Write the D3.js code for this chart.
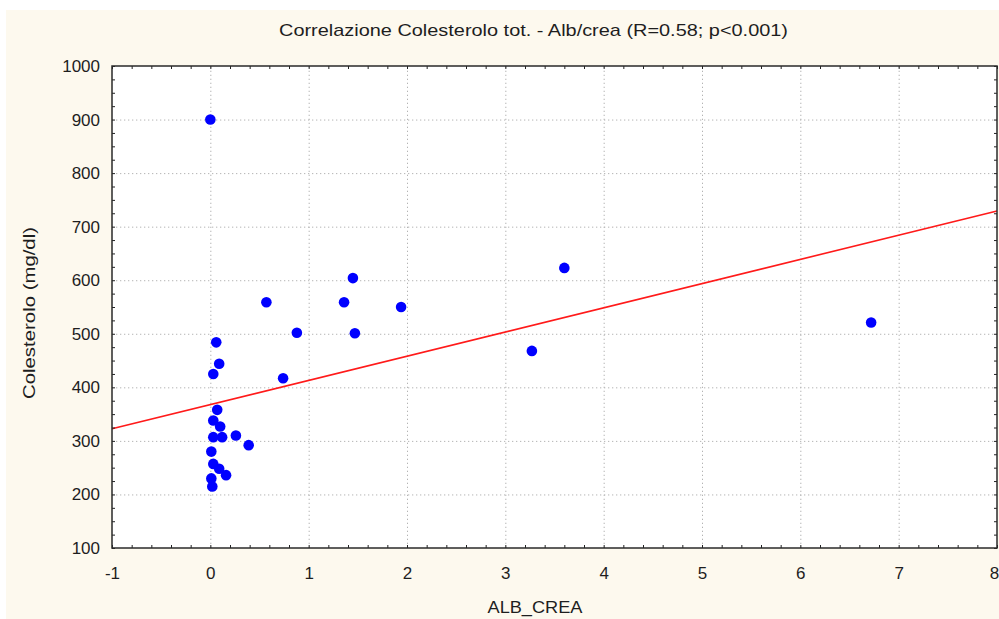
<!DOCTYPE html>
<html>
<head>
<meta charset="utf-8">
<script src="https://cdn.jsdelivr.net/npm/d3@7"></script>
<style>
    body { margin: 0; background: #fff; }
    svg { display: block; }
</style>
</head>
<body>
<svg id="chart"></svg>
<script>
// values
const albCrea = [0.00, 0.06, 0.09, 0.03, 0.07, 0.03, 0.10, 0.03, 0.12, 0.26, 0.39, 0.01, 0.03, 0.09,
    0.16, 0.01, 0.02, 0.57, 0.88, 0.74, 1.36, 1.45, 1.47, 1.94, 3.27, 3.60, 6.72];
const colesterolo = [900, 484, 444, 425, 358, 338, 327, 307, 307, 310, 292, 280, 257, 248,
    236, 230, 215, 559, 502, 417, 559, 604, 501, 550, 468, 623, 521];
const xTicks = [-1, 0, 1, 2, 3, 4, 5, 6, 7, 8];
const yTicks = [100, 200, 300, 400, 500, 600, 700, 800, 900, 1000];
const fitLine = { intercept: 367.7, slope: 45.2 };
const titleText = 'Correlazione Colesterolo tot. - Alb/crea (R=0.58; p<0.001)';
const xLabel = 'ALB_CREA';
const yLabel = 'Colesterolo (mg/dl)';

class ScatterPlot {
    constructor(_config, _data) {
        this.data = _data;

        // config object with defaults
        this.config = {
            parentElement: _config.parentElement || 'body',
            width: _config.width || 999,
            height: _config.height || 619,
            margin: _config.margin || { top: 66, right: 2, bottom: 71, left: 112 }
        };

        this.initVis();
    }

    initVis() {
        const that = this;

        // inner bounds
        that.boundedWidth = that.config.width - that.config.margin.left - that.config.margin.right;
        that.boundedHeight = that.config.height - that.config.margin.top - that.config.margin.bottom;

        that.xScale = d3.scaleLinear()
            .domain([-1, 8])
            .range([0, that.boundedWidth]);

        that.yScale = d3.scaleLinear()
            .domain([100, 1000])
            .range([that.boundedHeight, 0]);

        that.wrapper = d3.select(that.config.parentElement)
            .attr('width', that.config.width)
            .attr('height', that.config.height)
            .style('font-family', '"Liberation Sans", Arial, sans-serif');

        // cream panel behind everything
        that.wrapper.append('rect')
            .attr('x', 6)
            .attr('y', 10)
            .attr('width', that.config.width - 6)
            .attr('height', that.config.height - 10)
            .attr('fill', '#fdf9ee');

        that.bounds = that.wrapper.append('g')
            .attr('transform', `translate(${that.config.margin.left}, ${that.config.margin.top})`);

        // white plotting area
        that.bounds.append('rect')
            .attr('width', that.boundedWidth)
            .attr('height', that.boundedHeight)
            .attr('fill', '#fff');
    }

    updateVis() {
        const that = this;

        that.points = that.data.x.map((d, i) => ({ x: d, y: that.data.y[i] }));

        // minor ticks every 0.2 on x and 25 on y
        that.xMinor = d3.range(-1, 8.0001, 0.2);
        that.yMinor = d3.range(100, 1000.001, 25);

        that.renderVis();
    }

    renderVis() {
        const that = this;
        const w = that.boundedWidth;
        const h = that.boundedHeight;

        // dotted gridlines
        const gridX = that.bounds.append('g')
            .attr('transform', `translate(0, ${h})`)
            .call(d3.axisBottom(that.xScale).tickValues(xTicks.slice(1, -1)).tickSize(-h).tickFormat(''));
        const gridY = that.bounds.append('g')
            .call(d3.axisLeft(that.yScale).tickValues(yTicks.slice(1, -1)).tickSize(-w).tickFormat(''));
        [gridX, gridY].forEach(g => {
            g.select('.domain').remove();
            g.selectAll('line')
                .attr('stroke', '#b4b4b4')
                .attr('stroke-dasharray', '1.3,2.7');
        });

        // regression line across the full x range
        const lineGen = d3.line()
            .x(d => that.xScale(d))
            .y(d => that.yScale(fitLine.intercept + fitLine.slope * d));
        that.bounds.append('path')
            .datum([-1, 8])
            .attr('d', lineGen)
            .attr('fill', 'none')
            .attr('stroke', '#ff1a1a')
            .attr('stroke-width', 1.6);

        // points
        that.bounds.selectAll('circle')
            .data(that.points)
            .join('circle')
            .attr('cx', d => that.xScale(d.x))
            .attr('cy', d => that.yScale(d.y))
            .attr('r', 5.3)
            .attr('fill', '#0000ff');

        // inward minor ticks on all four sides
        const minorAxes = [
            { axis: d3.axisBottom(that.xScale).tickValues(that.xMinor), t: `translate(0, ${h})` },
            { axis: d3.axisTop(that.xScale).tickValues(that.xMinor), t: 'translate(0, 0)' },
            { axis: d3.axisLeft(that.yScale).tickValues(that.yMinor), t: 'translate(0, 0)' },
            { axis: d3.axisRight(that.yScale).tickValues(that.yMinor), t: `translate(${w}, 0)` }
        ];
        minorAxes.forEach(m => {
            const g = that.bounds.append('g')
                .attr('transform', m.t)
                .call(m.axis.tickSize(-3).tickFormat(''));
            g.select('.domain').remove();
            g.selectAll('line').attr('stroke', '#222');
        });

        // frame
        that.bounds.append('rect')
            .attr('width', w)
            .attr('height', h)
            .attr('fill', 'none')
            .attr('stroke', '#2a2a2a')
            .attr('stroke-width', 1.5);

        // tick labels (plain hyphen for negatives, like the original)
        const plainFormat = d => String(d);
        const xAxisG = that.bounds.append('g')
            .attr('transform', `translate(0, ${h})`)
            .call(d3.axisBottom(that.xScale).tickValues(xTicks).tickSize(0).tickPadding(19).tickFormat(plainFormat));
        const yAxisG = that.bounds.append('g')
            .call(d3.axisLeft(that.yScale).tickValues(yTicks).tickSize(0).tickPadding(12).tickFormat(plainFormat));
        [xAxisG, yAxisG].forEach(g => {
            g.select('.domain').remove();
            g.selectAll('text')
                .style('font-family', '"Liberation Sans", Arial, sans-serif')
                .style('font-size', '17px')
                .attr('fill', '#1e1e1e');
        });
        // last x label sits against the right edge
        xAxisG.selectAll('text')
            .filter(d => d === xTicks[xTicks.length - 1])
            .attr('x', -3);

        // titles
        that.wrapper.append('text')
            .attr('x', 533.5)
            .attr('y', 36)
            .attr('text-anchor', 'middle')
            .attr('textLength', 509)
            .attr('lengthAdjust', 'spacingAndGlyphs')
            .style('font-size', '17px')
            .attr('fill', '#1e1e1e')
            .text(titleText);

        that.wrapper.append('text')
            .attr('x', 535)
            .attr('y', 613)
            .attr('text-anchor', 'middle')
            .attr('textLength', 95)
            .attr('lengthAdjust', 'spacingAndGlyphs')
            .style('font-size', '17px')
            .attr('fill', '#1e1e1e')
            .text(xLabel);

        that.wrapper.append('text')
            .attr('transform', 'translate(35, 313) rotate(-90)')
            .attr('text-anchor', 'middle')
            .attr('textLength', 172)
            .attr('lengthAdjust', 'spacingAndGlyphs')
            .style('font-size', '17px')
            .attr('fill', '#1e1e1e')
            .text(yLabel);
    }
}

const plot = new ScatterPlot({ parentElement: '#chart' }, { x: albCrea, y: colesterolo });
plot.updateVis();
</script>
</body>
</html>
